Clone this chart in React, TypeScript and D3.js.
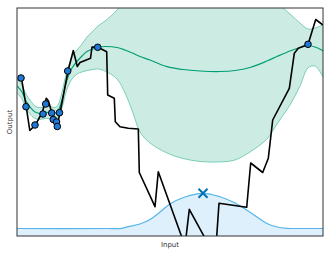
import React, { useEffect, useRef } from 'react';
import * as d3 from 'd3';

// objective function (black, jagged)
const objX = [4.5, 9.2, 12.8, 18.3, 25.2, 29.3, 31.5, 34.7, 36.3, 40, 43, 51, 56.3, 60.3, 63, 73.5, 75, 81, 89.7, 90.7, 97.3, 98.3, 103, 111.3, 121.3, 122.3, 138, 141.3, 168, 172.3, 198.3, 202, 229.7, 233.7, 245.7, 251.3, 255.7, 272.3, 277.3, 281.3, 291, 298.7, 306];
const objY = [157.7, 129.3, 105.5, 110.8, 123.5, 137.7, 135, 123.5, 116, 109.3, 123, 165, 185.5, 169.5, 173.5, 177.7, 189, 188.7, 184.3, 141, 137.7, 114.3, 109.3, 107.7, 107, 63.5, 29.3, 64.3, -10, 26.7, -21, 32.7, 28.7, 73, 63.5, 77.7, 116, 147.7, 182.7, 187.7, 191.5, 216.5, 211];

// observations
const obsX = [4, 9, 18, 26, 28.7, 34.7, 36.3, 39.5, 40.3, 42.5, 50.7, 80.7, 291];
const obsY = [158, 129.3, 111, 122, 132, 123, 116.5, 114, 109.5, 123.3, 165, 188.7, 191.7];

// GP posterior
const gridX = [0, 5, 9, 13, 18, 23, 28, 33, 38, 41, 45, 50, 55, 60, 65, 70, 76, 81, 88, 100, 108, 116, 123, 133, 150, 166, 183, 203, 218, 233, 250, 260, 273, 283, 291, 298, 306];
const meanY = [150, 144, 135, 129, 124, 122.5, 123.5, 123.5, 123, 125, 136, 156, 168, 174.5, 180, 184.5, 187, 188.5, 189.5, 188.5, 186, 182.7, 179.5, 176, 169.3, 166.5, 165, 164.5, 165.5, 168.5, 175, 179.5, 185, 188.5, 190.5, 189, 185.3];
const upperY = [157, 151, 142, 136, 130, 128.5, 129.5, 129.5, 128.5, 131, 144, 165, 179, 186, 192, 199, 205, 210, 215, 226, 238, 248, 254, 261, 262, 260, 257, 255, 252, 247, 240, 233, 222, 213, 207, 208, 211];
const lowerY = [143, 137, 128, 122, 117.5, 116.5, 117.5, 117.5, 117.5, 119, 128, 147, 157, 162, 164, 165.5, 166.5, 167, 165, 157, 143, 123, 104, 93, 83, 77.5, 74.5, 74, 76, 84, 97, 112, 131, 150, 168, 170, 159];

// acquisition function
const acqX = [0, 90, 105, 111, 123, 133, 143, 153, 168, 186, 203, 216, 228, 240, 250, 260, 270, 285, 306];
const acqY = [7.5, 7.5, 7.7, 9.3, 12, 16.5, 24, 32, 39, 42.7, 39.3, 34, 27, 19, 12.5, 9, 7.7, 7.5, 7.5];
const nextX = 186;
const nextY = 42.7;

const App = () => {
  const svgRef = useRef(null);

  useEffect(() => {
    const width = 332;
    const height = 254;
    const margin = { top: 8, right: 9, bottom: 18, left: 17 };

    const svg = d3.select(svgRef.current).attr('width', width).attr('height', height);
    svg.selectAll('*').remove();

    const x = d3.scaleLinear().domain([0, 306]).range([margin.left, width - margin.right]);
    const y = d3.scaleLinear().domain([0, 228]).range([height - margin.bottom, margin.top]);

    svg
      .append('defs')
      .append('clipPath')
      .attr('id', 'plot-clip')
      .append('rect')
      .attr('x', margin.left)
      .attr('y', margin.top)
      .attr('width', width - margin.left - margin.right)
      .attr('height', height - margin.top - margin.bottom);

    const g = svg.append('g').attr('clip-path', 'url(#plot-clip)');

    const band = gridX.map((d, i) => ({ x: d, m: meanY[i], lo: lowerY[i], hi: upperY[i] }));
    const curve = d3.curveCatmullRom.alpha(0.5);

    g.append('path')
      .datum(band)
      .attr('fill', '#009E73')
      .attr('fill-opacity', 0.2)
      .attr('d', d3.area().x((d) => x(d.x)).y0((d) => y(d.lo)).y1((d) => y(d.hi)).curve(curve));

    ['lo', 'hi'].forEach((k) => {
      g.append('path')
        .datum(band)
        .attr('fill', 'none')
        .attr('stroke', '#009E73')
        .attr('stroke-opacity', 0.45)
        .attr('stroke-width', 1)
        .attr('d', d3.line().x((d) => x(d.x)).y((d) => y(d[k])).curve(curve));
    });

    g.append('path')
      .datum(band)
      .attr('fill', 'none')
      .attr('stroke', '#009E73')
      .attr('stroke-width', 1.2)
      .attr('d', d3.line().x((d) => x(d.x)).y((d) => y(d.m)).curve(curve));

    // acquisition
    const acq = acqX.map((d, i) => [d, acqY[i]]);
    g.append('path')
      .datum(acq)
      .attr('fill', '#56B4E9')
      .attr('fill-opacity', 0.2)
      .attr('d', d3.area().x((d) => x(d[0])).y0(y(0) + 2).y1((d) => y(d[1])).curve(curve));
    g.append('path')
      .datum(acq)
      .attr('fill', 'none')
      .attr('stroke', '#56B4E9')
      .attr('stroke-width', 1.2)
      .attr('d', d3.line().x((d) => x(d[0])).y((d) => y(d[1])).curve(curve));

    // objective
    g.append('path')
      .datum(objX.map((d, i) => [d, objY[i]]))
      .attr('fill', 'none')
      .attr('stroke', '#000')
      .attr('stroke-width', 1.6)
      .attr('stroke-linejoin', 'round')
      .attr('d', d3.line().x((d) => x(d[0])).y((d) => y(d[1])));

    // observations
    svg
      .append('g')
      .selectAll('circle')
      .data(obsX.map((d, i) => [d, obsY[i]]))
      .join('circle')
      .attr('cx', (d) => x(d[0]))
      .attr('cy', (d) => y(d[1]))
      .attr('r', 3.3)
      .attr('fill', '#1f78d6')
      .attr('stroke', '#000')
      .attr('stroke-width', 1);

    // next point
    const s = 4.5;
    svg
      .append('path')
      .attr('d', `M${x(nextX) - s},${y(nextY) - s}L${x(nextX) + s},${y(nextY) + s}M${x(nextX) - s},${y(nextY) + s}L${x(nextX) + s},${y(nextY) - s}`)
      .attr('stroke', '#0072B2')
      .attr('stroke-width', 2)
      .attr('fill', 'none');

    // frame
    svg
      .append('rect')
      .attr('x', margin.left)
      .attr('y', margin.top)
      .attr('width', width - margin.left - margin.right)
      .attr('height', height - margin.top - margin.bottom)
      .attr('fill', 'none')
      .attr('stroke', '#333')
      .attr('stroke-width', 1);

    svg
      .append('text')
      .attr('x', (margin.left + width - margin.right) / 2)
      .attr('y', height - 7.5)
      .attr('text-anchor', 'middle')
      .attr('font-family', 'DejaVu Sans')
      .attr('font-size', 7)
      .attr('fill', '#333')
      .text('Input');

    svg
      .append('text')
      .attr('transform', `translate(11.5,${(margin.top + height - margin.bottom) / 2}) rotate(-90)`)
      .attr('text-anchor', 'middle')
      .attr('font-family', 'DejaVu Sans')
      .attr('font-size', 7)
      .attr('fill', '#333')
      .text('Output');
  }, []);

  return <svg ref={svgRef} style={{ position: 'absolute', left: 0, top: 0 }}></svg>;
};

export default App;
